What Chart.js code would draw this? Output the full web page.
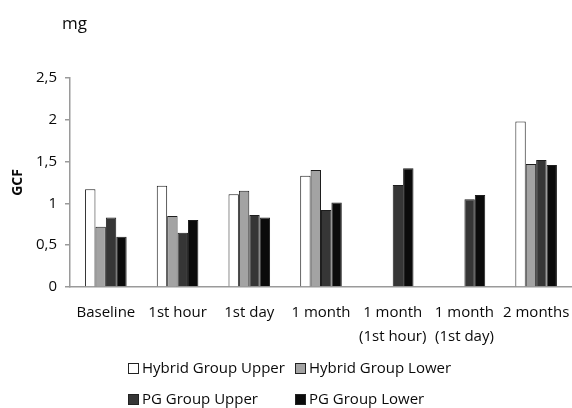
<!DOCTYPE html>
<html>
<head>
<meta charset="utf-8">
<script src="https://cdn.jsdelivr.net/npm/chart.js@4/dist/chart.umd.min.js"></script>
<style>
  html, body { margin: 0; padding: 0; background: #fff; }
  #wrap { position: relative; width: 572px; height: 408px; }
</style>
</head>
<body>
<div id="wrap"><canvas id="c" width="572" height="408"></canvas></div>
<script>
const categories = ['Baseline', '1st hour', '1st day', '1 month', ['1 month', '(1st hour)'], ['1 month', '(1st day)'], '2 months'];
const seriesNames = ['Hybrid Group Upper', 'Hybrid Group Lower', 'PG Group Upper', 'PG Group Lower'];
const hybridUpper = [1.17, 1.21, 1.11, 1.33, null, null, 1.98];
const hybridLower = [0.72, 0.85, 1.15, 1.40, null, null, 1.47];
const pgUpper = [0.83, 0.65, 0.86, 0.92, 1.22, 1.05, 1.52];
const pgLower = [0.60, 0.80, 0.83, 1.01, 1.42, 1.10, 1.46];
const yTicks = [0, 0.5, 1, 1.5, 2, 2.5];
const unitLabel = 'mg';
const yTitle = 'GCF';

const fills = ['#ffffff', '#a3a3a3', '#363636', '#0b0b0b'];
const FONT = "'Open Sans', 'DejaVu Sans', sans-serif";
const TEXT = '#0a0a0a';

const legendPlugin = {
  id: 'gridLegend',
  afterDraw(chart) {
    const ctx = chart.ctx;
    ctx.save();
    // unit label
    ctx.fillStyle = TEXT;
    ctx.font = "17px " + FONT;
    ctx.textBaseline = 'alphabetic';
    ctx.textAlign = 'left';
    ctx.fillText(unitLabel, 62, 29);
    // legend in 2 columns
    const cols = [128, 295];
    const rows = [368, 399];
    chart.data.datasets.forEach((ds, i) => {
      const x = cols[i % 2];
      const y = rows[Math.floor(i / 2)];
      ctx.fillStyle = ds.backgroundColor;
      ctx.fillRect(x + 0.5, y - 4.5, 10, 10);
      ctx.strokeStyle = '#222';
      ctx.lineWidth = 1;
      ctx.strokeRect(x + 0.5, y - 4.5, 10, 10);
      ctx.fillStyle = TEXT;
      ctx.font = "15px " + FONT;
      ctx.textBaseline = 'middle';
      ctx.fillText(ds.label, x + 14, y + 1);
    });
    ctx.restore();
  }
};

const datasets = [hybridUpper, hybridLower, pgUpper, pgLower].map((d, i) => ({
  label: seriesNames[i],
  data: d,
  backgroundColor: fills[i],
  borderColor: '#1e1e1e',
  borderWidth: 1,
  borderSkipped: 'bottom'
}));

new Chart(document.getElementById('c'), {
  type: 'bar',
  data: { labels: categories, datasets },
  plugins: [legendPlugin],
  options: {
    responsive: false,
    animation: false,
    devicePixelRatio: 1,
    layout: { padding: { top: 78, bottom: 60, left: 0, right: 0 } },
    plugins: { legend: { display: false }, tooltip: { enabled: false } },
    datasets: { bar: { categoryPercentage: 0.58, barPercentage: 1.0 } },
    scales: {
      x: {
        grid: { display: false },
        border: { display: true, color: '#9a9a9a', width: 1.5 },
        ticks: {
          color: TEXT,
          font: { family: FONT, size: 15, lineHeight: 1.65 },
          padding: 5,
          maxRotation: 0,
          autoSkip: false
        },
        afterFit(scale) { scale.height = 61; scale.paddingLeft = 0; scale.paddingRight = 0; }
      },
      y: {
        min: 0,
        max: 2.5,
        afterBuildTicks(scale) { scale.ticks = yTicks.map(v => ({ value: v })); },
        grid: { drawOnChartArea: false, drawTicks: true, tickLength: 5, color: '#9a9a9a', lineWidth: 1.5 },
        border: { display: true, color: '#9a9a9a', width: 1.5 },
        ticks: {
          color: TEXT,
          font: { family: FONT, size: 15 },
          padding: 8,
          callback: v => String(v).replace('.', ',')
        },
        title: {
          display: true,
          text: yTitle,
          color: TEXT,
          font: { family: FONT, size: 14, weight: 'bold' },
          padding: { top: 10, bottom: 0 }
        },
        afterFit(scale) { scale.width = 70; scale.paddingTop = 0; scale.paddingBottom = 0; }
      }
    }
  }
});
</script>
</body>
</html>
